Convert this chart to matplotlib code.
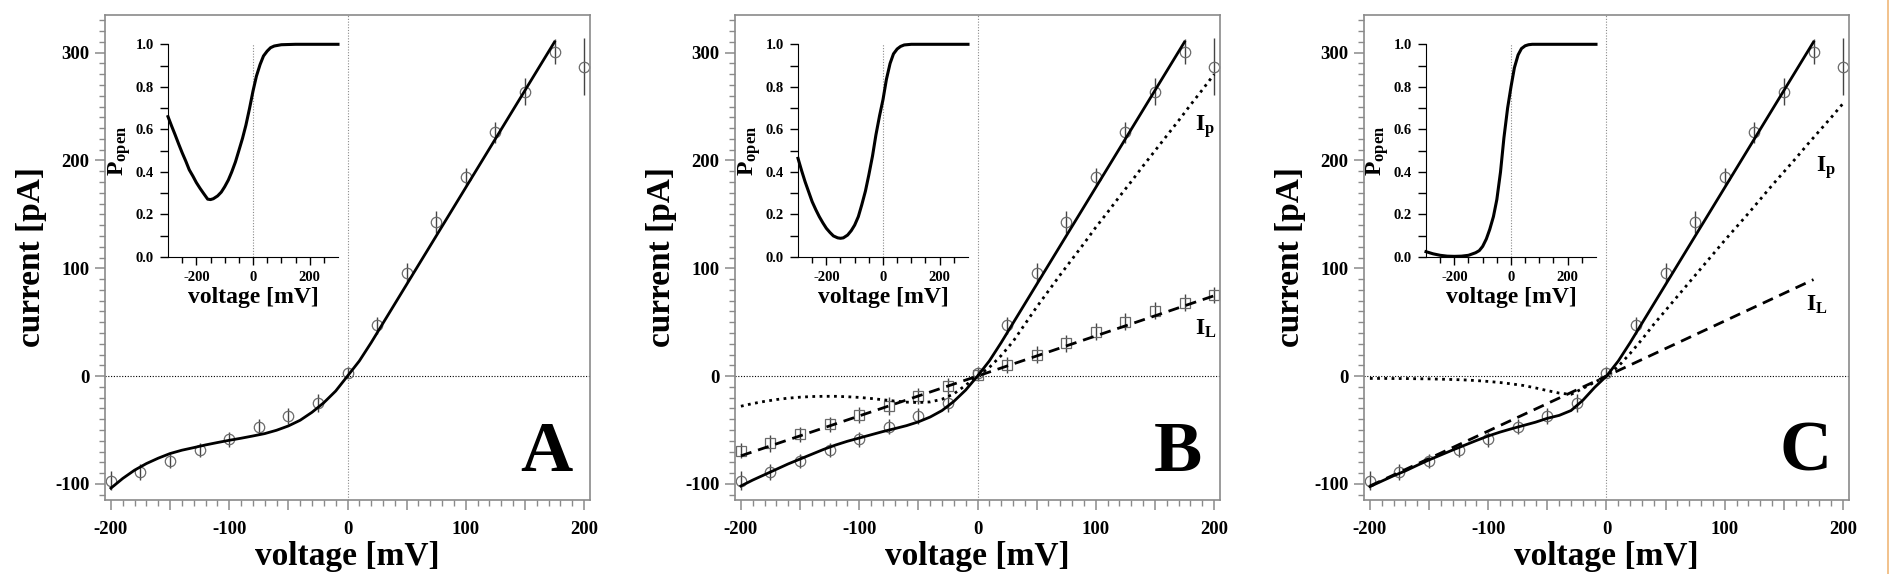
import numpy as np
import matplotlib.pyplot as plt
from matplotlib.lines import Line2D
from matplotlib.ticker import FixedLocator, MultipleLocator, FuncFormatter

plt.rcParams['font.family'] = ['Liberation Serif', 'DejaVu Serif']
plt.rcParams['font.weight'] = 'bold'
plt.rcParams['axes.unicode_minus'] = False
plt.rcParams['mathtext.fontset'] = 'custom'
plt.rcParams['mathtext.rm'] = 'Liberation Serif'
plt.rcParams['mathtext.bf'] = 'Liberation Serif:bold'

# measured data (same in all panels)
volt = [-200, -175, -150, -125, -100, -75, -50, -25, 0, 25, 50, 75, 100, 125, 150, 175, 200]
cur = [-97, -89, -79, -69, -58.5, -47, -37, -25, 3, 47, 96, 143, 185, 226, 264, 301, 287]
cur_err = [9, 7.5, 6.5, 6.5, 7, 7, 7.7, 8.3, 5, 7.7, 8.5, 10, 8.5, 9.3, 12.4, 11.6, 26.6]
# leak current data (panel B squares)
leak = [-69.4, -62.3, -54, -44.8, -36.1, -27.8, -18.5, -9.3, 0.6, 10.2, 20, 30.3, 41.2, 50.5, 60.7, 68, 75.2]
leak_err = [7, 7.7, 7, 7, 7.7, 8.5, 7.7, 7.7, 5, 7.4, 7.7, 7.7, 8, 7.7, 7.7, 7.7, 7.7]

# fitted total current
fit_v = [-200, -190, -180, -170, -160, -150, -140, -130, -120, -110, -100, -90, -80, -70, -60,
         -50, -40, -30, -20, -10, 0, 10, 20, 30, 40, 50, 60, 70, 80, 90, 100, 110, 120, 130,
         140, 150, 160, 170, 175]
pos_part = [0, 14, 31, 49, 67, 85, 103, 121, 139, 157, 175, 193, 211, 229, 247, 265, 283, 301, 310]
fit_A = [-104, -95, -87.3, -81.2, -76.2, -71.9, -68.8, -66.4, -63.9, -61.7, -59.6, -57.7, -55.6,
         -53.4, -50.3, -46.3, -41, -33.6, -24.7, -13.9] + pos_part
fit_B = [-102, -96.5, -91.5, -86.5, -81.5, -77, -72.5, -68, -64, -60.5, -57.5, -54.5, -51.5,
         -48.8, -46, -42.5, -38, -32, -23.5, -13] + pos_part
fit_C = [-102.5, -97.5, -92.5, -88, -82.8, -77.8, -73.2, -68.6, -64.2, -59.8, -55.6, -52, -48.8,
         -45.8, -42.8, -39.2, -36.5, -32, -22.5, -10.5] + pos_part

# pump current components
ip_v = [-200, -190, -180, -170, -160, -150, -140, -130, -120, -110, -100, -90, -80, -70, -60,
        -50, -40, -30, -20, -10, 0, 10, 20, 30, 40, 50, 60, 70, 80, 90, 100, 110, 120, 130,
        140, 150, 160, 170, 180, 190, 200]
ip_B = [-28, -25.5, -23.5, -21.8, -20.5, -19.6, -19, -18.8, -18.8, -19.2, -19.8, -20.8, -22,
        -23.2, -24.2, -24.6, -24, -21.5, -16.5, -8.5, 0, 8, 19, 32, 48, 64, 79, 94, 108.5, 123,
        138, 152, 166.5, 180.5, 195, 209, 223, 237, 251.5, 265.5, 280]
ip_C = [-2.2, -2.2, -2.3, -2.3, -2.5, -2.6, -2.9, -3.2, -3.6, -4.2, -5, -6, -7.3, -8.8, -11,
        -13.5, -15.8, -17, -11.5, -5.7, 0, 9, 21, 34, 48, 61, 74, 87, 100, 113, 126, 138.5, 151,
        164, 177, 189.5, 202, 215, 227.5, 240, 253]
il_B_v = [-200, 0, 200]
il_B = [-74, 0, 74.5]
il_C_v = [-200, 0, 175]
il_C = [-102, 0, 89.5]

# open probability insets
po_v = [-300, -287, -275, -262, -250, -237, -225, -212, -200, -187, -175, -160, -150, -140,
        -125, -112, -100, -87, -75, -62, -50, -37, -25, -12, 0, 12, 25, 37, 50, 62, 75, 100,
        150, 200, 250, 300]
po_A = [0.66, 0.615, 0.575, 0.53, 0.49, 0.45, 0.41, 0.38, 0.35, 0.323, 0.30, 0.272, 0.27, 0.274,
        0.287, 0.305, 0.33, 0.362, 0.40, 0.447, 0.50, 0.558, 0.62, 0.70, 0.78, 0.85, 0.905,
        0.945, 0.968, 0.984, 0.992, 0.998, 1.0, 1.0, 1.0, 1.0]
po_B = [0.464, 0.405, 0.354, 0.305, 0.26, 0.222, 0.19, 0.16, 0.135, 0.115, 0.099, 0.09, 0.088,
        0.09, 0.103, 0.124, 0.15, 0.19, 0.245, 0.31, 0.386, 0.475, 0.574, 0.665, 0.74, 0.835,
        0.91, 0.955, 0.978, 0.99, 0.997, 1.0, 1.0, 1.0, 1.0, 1.0]
po_C_v = [-300, -275, -250, -225, -200, -175, -150, -125, -112, -100, -87, -75, -62, -50, -37,
          -25, -12, 0, 12, 25, 37, 50, 62, 75, 100, 200, 300]
po_C = [0.025, 0.015, 0.008, 0.004, 0.003, 0.004, 0.008, 0.02, 0.03, 0.05, 0.085, 0.13, 0.19,
        0.27, 0.40, 0.56, 0.70, 0.80, 0.89, 0.95, 0.98, 0.993, 0.998, 1.0, 1.0, 1.0, 1.0]

W, H = 1890.0, 574.0
main_left = [105, 735, 1364]
inset_left = [168, 798, 1426]
letters = ['A', 'B', 'C']
GRAY = '#8a8a8a'


def hundred_fmt(v, pos):
    if abs(v % 100) < 1e-6:
        return '%d' % v
    return ''


def setup_main(ax):
    ax.set_xlim(-205, 205)
    ax.set_ylim(-115, 335)
    for s in ax.spines.values():
        s.set_color(GRAY)
        s.set_linewidth(1.2)
    ax.xaxis.set_major_locator(MultipleLocator(50))
    ax.xaxis.set_major_formatter(FuncFormatter(hundred_fmt))
    ax.xaxis.set_minor_locator(MultipleLocator(10))
    ax.yaxis.set_major_locator(FixedLocator([-100, 0, 100, 200, 300]))
    ax.yaxis.set_minor_locator(MultipleLocator(10))
    ax.tick_params(which='major', direction='out', length=7, width=1.1, color=GRAY,
                   labelsize=13.5, pad=8)
    ax.tick_params(which='minor', direction='out', length=4, width=1.0, color=GRAY)
    ax.tick_params(axis='y', which='major', pad=4)
    ax.axhline(0, color='black', lw=0.8, ls=(0, (1, 1.5)), zorder=1)
    ax.axvline(0, color=GRAY, lw=0.8, ls=(0, (1, 1.5)), zorder=1)
    ax.set_xlabel('voltage [mV]', fontsize=24, fontweight='bold', labelpad=2)
    ax.set_ylabel('current [pA]', fontsize=24, fontweight='bold', labelpad=6)


def setup_inset(ax, v, p):
    ax.set_xlim(-300, 300)
    ax.set_ylim(0, 1.0)
    ax.spines['top'].set_visible(False)
    ax.spines['right'].set_visible(False)
    ax.xaxis.set_major_locator(FixedLocator([-200, 0, 200]))
    ax.xaxis.set_minor_locator(FixedLocator([-250, -150, -100, -50, 50, 100, 150, 250]))
    ax.yaxis.set_major_locator(MultipleLocator(0.2))
    ax.yaxis.set_minor_locator(MultipleLocator(0.1))
    ax.yaxis.set_major_formatter(FuncFormatter(lambda y, pos: '%.1f' % y))
    ax.tick_params(which='major', direction='out', length=6, width=1.0, labelsize=10.5, pad=4)
    ax.tick_params(which='minor', direction='out', length=4, width=1.0)
    ax.tick_params(axis='y', which='minor', length=6)
    ax.axvline(0, color=GRAY, lw=0.8, ls=(0, (1, 1.5)), zorder=1)
    ax.plot(v, p, color='black', lw=2.2, clip_on=False, zorder=3)
    ax.set_xlabel('voltage [mV]', fontsize=17, fontweight='bold', labelpad=2)
    ax.set_ylabel(r'$\mathbf{P_{open}}$', fontsize=17, labelpad=2)
    ax.patch.set_alpha(0)


def data_points(ax, y, err, marker):
    ax.errorbar(volt, y, yerr=err, fmt='none', ecolor='#444444', elinewidth=1.0, capsize=0,
                zorder=2)
    ax.plot(volt, y, ls='none', marker=marker, ms=7.5, mfc='none', mec='#6a6a6a', mew=0.9,
            zorder=2)


fig = plt.figure(figsize=(W / 100, H / 100), dpi=100)

for i in range(3):
    ax = fig.add_axes([main_left[i] / W, 1 - 500 / H, 485 / W, 485 / H])
    setup_main(ax)
    data_points(ax, cur, cur_err, 'o')
    if i == 0:
        ax.plot(fit_v, fit_A, color='black', lw=2.0, zorder=3)
    elif i == 1:
        data_points(ax, leak, leak_err, 's')
        ax.plot(fit_v, fit_B, color='black', lw=2.0, zorder=3)
        ax.plot(ip_v, ip_B, color='black', lw=2.0, ls=(0, (1, 1.6)), zorder=3)
        ax.plot(il_B_v, il_B, color='black', lw=2.0, ls=(0, (4, 2.5)), zorder=3)
        ax.text(184, 228, r'$\mathbf{I_p}$', fontsize=17)
        ax.text(184, 38, r'$\mathbf{I_L}$', fontsize=17)
    else:
        ax.plot(fit_v, fit_C, color='black', lw=2.0, zorder=3)
        ax.plot(ip_v, ip_C, color='black', lw=2.0, ls=(0, (1, 1.6)), zorder=3)
        ax.plot(il_C_v, il_C, color='black', lw=2.0, ls=(0, (4, 2.5)), zorder=3)
        ax.text(177, 190, r'$\mathbf{I_p}$', fontsize=17)
        ax.text(169, 61, r'$\mathbf{I_L}$', fontsize=17)
    ax.text(190, -88, letters[i], fontsize=52, fontweight='bold', ha='right', va='baseline')

    ins = fig.add_axes([inset_left[i] / W, 1 - 257 / H, 170 / W, 212.7 / H])
    if i == 0:
        setup_inset(ins, po_v, po_A)
    elif i == 1:
        setup_inset(ins, po_v, po_B)
    else:
        setup_inset(ins, po_C_v, po_C)

# thin orange edge seen at the far right of the scan
fig.add_artist(Line2D([1 - 1.5 / W, 1 - 1.5 / W], [0, 1], color='#f0b878', lw=1.2,
                      transform=fig.transFigure))

fig.savefig('out.png', dpi=100)
